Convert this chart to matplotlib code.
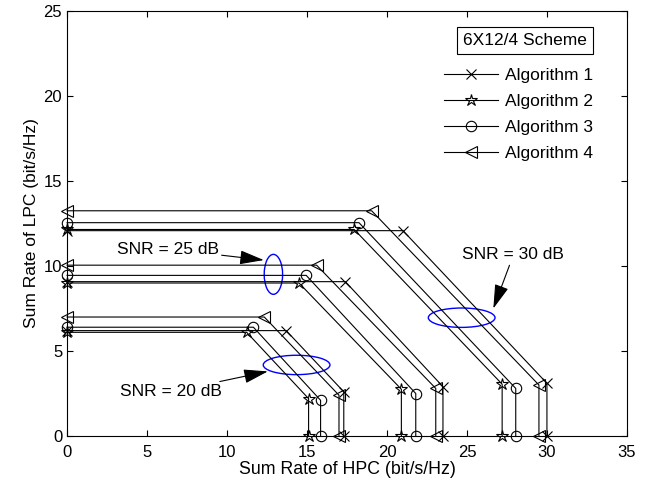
"""Sum rate region of HPC vs LPC for four algorithms at three SNR values."""

import matplotlib
matplotlib.use("Agg")
import matplotlib.pyplot as plt
from matplotlib.patches import Ellipse

plt.rcParams["font.family"] = ["Liberation Sans", "DejaVu Sans"]

# Values, one entry per SNR (20, 25, 30 dB)
snr_levels = [20, 25, 30]
alg_labels = ["Algorithm 1", "Algorithm 2", "Algorithm 3", "Algorithm 4"]
alg_markers = ["x", "*", "o", "<"]

# LPC rate of the flat part, HPC rate where the slope starts,
# HPC rate of the vertical part and LPC rate where it starts
alg1_lpc = [6.2, 9.08, 12.08]
alg1_corner = [13.7, 17.4, 21.0]
alg1_end_x = [17.3, 23.5, 30.0]
alg1_end_y = [2.6, 2.9, 3.1]

alg2_lpc = [6.1, 9.0, 12.15]
alg2_corner = [11.23, 14.5, 17.95]
alg2_end_x = [15.1, 20.9, 27.2]
alg2_end_y = [2.2, 2.75, 3.05]

alg3_lpc = [6.4, 9.45, 12.55]
alg3_corner = [11.65, 14.95, 18.25]
alg3_end_x = [15.85, 21.8, 28.05]
alg3_end_y = [2.1, 2.5, 2.8]

alg4_lpc = [7.0, 10.05, 13.25]
alg4_corner = [12.33, 15.6, 19.04]
alg4_end_x = [17.0, 23.05, 29.5]
alg4_end_y = [2.4, 2.8, 3.0]

algs = [
    (alg1_lpc, alg1_corner, alg1_end_x, alg1_end_y),
    (alg2_lpc, alg2_corner, alg2_end_x, alg2_end_y),
    (alg3_lpc, alg3_corner, alg3_end_x, alg3_end_y),
    (alg4_lpc, alg4_corner, alg4_end_x, alg4_end_y),
]
marker_sizes = [7, 9, 7.5, 8]

fig = plt.figure(figsize=(6.51, 4.93), dpi=100)
ax = fig.add_axes([0.103, 0.1156, 0.860, 0.862])

for (lpc, corner, end_x, end_y), label, mk, ms in zip(
        algs, alg_labels, alg_markers, marker_sizes):
    for i in range(len(snr_levels)):
        xs = [0, corner[i], end_x[i], end_x[i]]
        ys = [lpc[i], lpc[i], end_y[i], 0]
        ax.plot(xs, ys, color="black", lw=0.8, marker=mk, ms=ms,
                mfc="none", mec="black", mew=0.8, clip_on=False,
                label=label if i == 0 else None)

# Ellipses marking each SNR group
ellipse_style = dict(fill=False, edgecolor="blue", lw=1.0)
ax.add_patch(Ellipse((14.35, 4.18), 4.17, 1.14, **ellipse_style))
ax.add_patch(Ellipse((12.9, 9.51), 1.15, 2.35, **ellipse_style))
ax.add_patch(Ellipse((24.67, 6.96), 4.17, 1.14, **ellipse_style))

arrow = dict(arrowstyle="-|>,head_length=1.2,head_width=0.35",
             color="black", lw=0.8, shrinkA=0, shrinkB=0)
ax.annotate("SNR = 20 dB", xy=(12.55, 3.8), xytext=(6.5, 2.6),
            fontsize=12.5, ha="center", va="center", arrowprops=arrow)
ax.annotate("SNR = 25 dB", xy=(12.3, 10.35), xytext=(6.3, 11.0),
            fontsize=12.5, ha="center", va="center", arrowprops=arrow)
ax.annotate("SNR = 30 dB", xy=(26.65, 7.5), xytext=(27.9, 10.65),
            fontsize=12.5, ha="center", va="center", arrowprops=arrow)

ax.text(28.63, 23.29, "6X12/4 Scheme", fontsize=12.5, ha="center",
        va="center", bbox=dict(boxstyle="square,pad=0.35", fc="white",
                               ec="black", lw=0.8))

ax.legend(loc="upper left", bbox_to_anchor=(0.674, 0.866), frameon=False,
          fontsize=12.5, handlelength=3.1, handletextpad=0.4,
          labelspacing=0.62, borderpad=0, borderaxespad=0)

ax.set_xlim(0, 35)
ax.set_ylim(0, 25)
ax.set_xticks(range(0, 36, 5))
ax.set_yticks(range(0, 26, 5))
ax.tick_params(direction="in", top=True, right=True, length=4,
               labelsize=12, width=0.8)
ax.tick_params(axis="x", pad=6.5)
for spine in ax.spines.values():
    spine.set_linewidth(0.8)
ax.set_xlabel("Sum Rate of HPC (bit/s/Hz)", fontsize=12.8, labelpad=1)
ax.set_ylabel("Sum Rate of LPC (bit/s/Hz)", fontsize=12.5, labelpad=3)

fig.savefig("out.png", dpi=100)
